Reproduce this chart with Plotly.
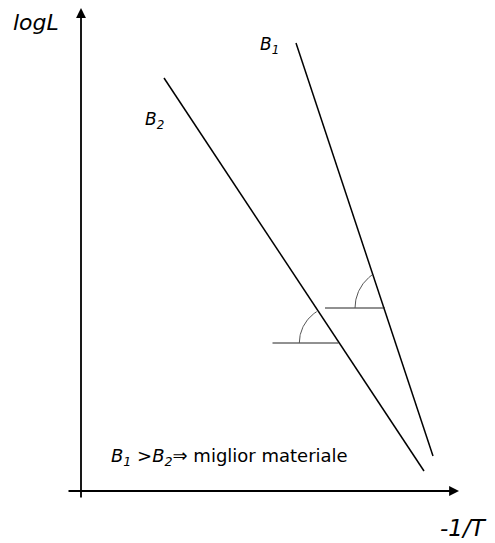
import numpy as np
import plotly.graph_objects as go

# Diagram units: origin where the two axes cross, y pointing up.
# Two Arrhenius-type lines logL vs -1/T with different slopes B1, B2.
line_names = ["B1", "B2"]
line_x = [[215, 352], [83, 343]]
line_y = [[448, 35], [413, 20]]

# Horizontal reference segments used to mark each slope angle
ref_x = [[244, 304], [191.5, 257.5]]
ref_y = [[183, 183], [148, 148]]

# Angle arcs: centre, radius, start/end angle (degrees)
arc_cx = [314.5, 255.2]
arc_cy = [183, 148]
arc_r = [40.5, 36.9]
arc_a0 = [180, 180]
arc_a1 = [125.5, 121.9]

# Axis extents
x_axis = [-14, 378]
y_axis = [-8, 483]

FONT = "DejaVu Sans"

fig = go.Figure()

for xs, ys, name in zip(line_x, line_y, line_names):
    fig.add_trace(go.Scatter(x=xs, y=ys, mode="lines", name=name,
                             line=dict(color="black", width=1.5),
                             hoverinfo="skip"))

for xs, ys in zip(ref_x, ref_y):
    fig.add_trace(go.Scatter(x=xs, y=ys, mode="lines",
                             line=dict(color="#222", width=1),
                             hoverinfo="skip"))

for cx, cy, r, a0, a1 in zip(arc_cx, arc_cy, arc_r, arc_a0, arc_a1):
    t = np.radians(np.linspace(a0, a1, 40))
    fig.add_trace(go.Scatter(x=cx + r * np.cos(t), y=cy + r * np.sin(t),
                             mode="lines", line=dict(color="#555", width=1),
                             hoverinfo="skip"))

# Axes drawn as arrows
arrow = dict(showarrow=True, text="", axref="x", ayref="y", xref="x", yref="y",
             arrowhead=2, arrowsize=1.1, arrowwidth=1.8, arrowcolor="black")
fig.add_annotation(x=x_axis[1], y=0, ax=x_axis[0], ay=0, **arrow)
fig.add_annotation(x=0, y=y_axis[1], ax=0, ay=y_axis[0], **arrow)

labels = [
    dict(text="<i>logL</i>", x=-70, y=469, size=22),
    dict(text="<i>B<sub>1</sub></i>", x=177, y=446, size=17),
    dict(text="<i>B<sub>2</sub></i>", x=62, y=371, size=17),
    dict(text="<i>B<sub>1</sub></i> ><i>B<sub>2</sub></i>\u21d2 miglior materiale",
         x=28, y=34, size=18),
    dict(text="<i>-1/T</i>", x=357, y=-37, size=23),
]
for lb in labels:
    fig.add_annotation(x=lb["x"], y=lb["y"], text=lb["text"], showarrow=False,
                       xanchor="left", yanchor="middle",
                       font=dict(family=FONT, size=lb["size"], color="black"))

fig.update_layout(
    width=495, height=543,
    margin=dict(l=0, r=0, t=0, b=0),
    paper_bgcolor="white", plot_bgcolor="white",
    showlegend=False,
    xaxis=dict(range=[-81, 414], visible=False, fixedrange=True),
    yaxis=dict(range=[-52, 491], visible=False, fixedrange=True),
)

fig.write_html("out.html")
